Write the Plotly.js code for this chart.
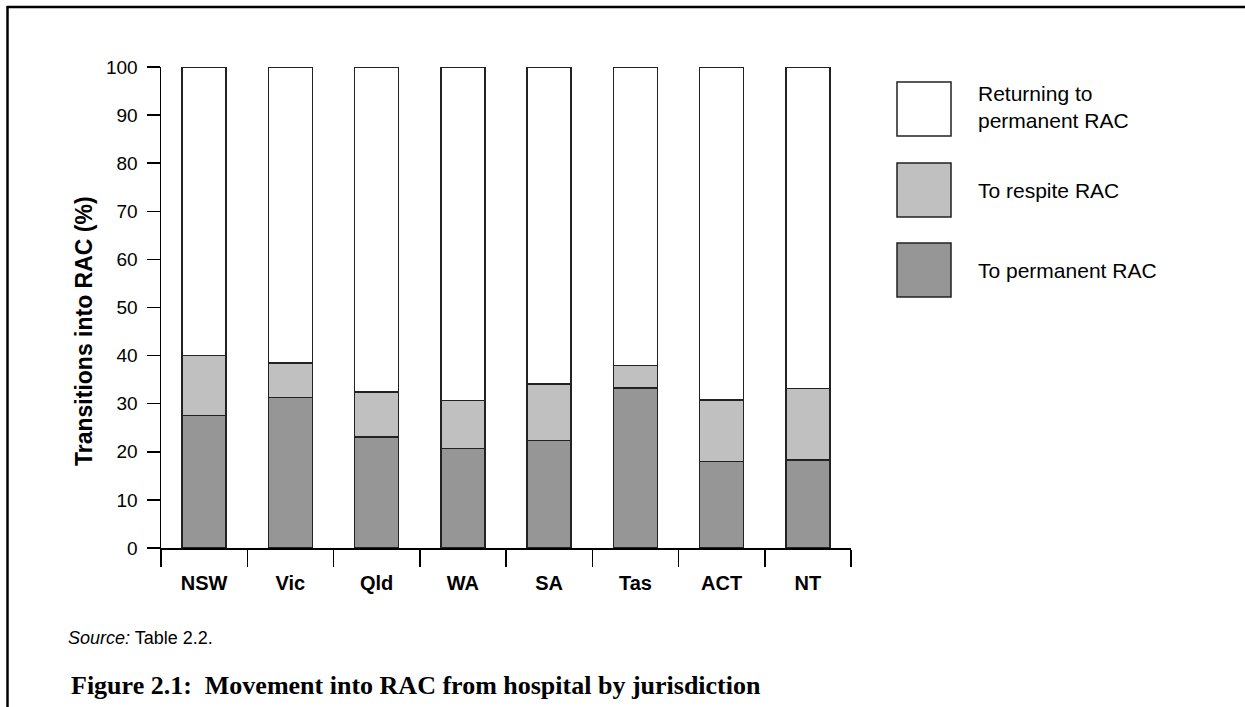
<!DOCTYPE html>
<html>
<head>
<meta charset="utf-8">
<script src="https://cdn.plot.ly/plotly-3.0.1.min.js"></script>
<style>html,body{margin:0;padding:0;background:#fff;}#chart{width:1245px;height:707px;}</style>
</head>
<body>
<div id="chart"></div>
<script>
const jurisdictions = ["NSW", "Vic", "Qld", "WA", "SA", "Tas", "ACT", "NT"];
const toPermanent = [27.5, 31.3, 23.1, 20.7, 22.3, 33.3, 18.0, 18.3];
const toRespite = [12.5, 7.2, 9.3, 10.0, 11.8, 4.6, 12.8, 14.9];
const returningPermanent = [60.0, 61.5, 67.6, 69.3, 65.9, 62.1, 69.2, 66.8];
const seriesNames = ["To permanent RAC", "To respite RAC", "Returning to<br>permanent RAC"];
const seriesColors = ["#969696", "#c0c0c0", "#ffffff"];
const yTicks = [0, 10, 20, 30, 40, 50, 60, 70, 80, 90, 100];

const FONT = "Liberation Sans, Arial, sans-serif";
const seriesValues = [toPermanent, toRespite, returningPermanent];
const traces = seriesValues.map((vals, i) => ({
  type: "bar",
  x: jurisdictions,
  y: vals,
  name: seriesNames[i],
  width: 0.51,
  marker: {color: seriesColors[i], line: {color: "#222", width: 1.5}},
  showlegend: false,
  hoverinfo: "skip"
}));

// helpers: pixel -> paper
const PX = x => (x - 161) / 690;
const PY = y => (548 - y) / 481;

// manual legend (top to bottom: returning, respite, permanent)
const legendOrder = [2, 1, 0];
const boxTops = [82, 163, 243];
const boxSize = 54;
const shapes = [];
const annotations = [];
legendOrder.forEach((si, k) => {
  shapes.push({type: "rect", xref: "paper", yref: "paper",
    x0: PX(897), x1: PX(951), y0: PY(boxTops[k]), y1: PY(boxTops[k] + boxSize),
    fillcolor: seriesColors[si], line: {color: "#222", width: 1.5}});
  annotations.push({xref: "paper", yref: "paper", x: PX(976),
    y: PY(boxTops[k] + boxSize / 2 - (k === 0 ? 2 : 0)), xanchor: "left", yanchor: "middle",
    align: "left", showarrow: false, text: seriesNames[si],
    font: {family: FONT, size: 21, color: "#000"}});
});
// frame lines
shapes.push({type: "line", xref: "paper", yref: "paper", x0: PX(7), x1: PX(1250),
  y0: PY(7), y1: PY(7), line: {color: "#000", width: 2.5}});
shapes.push({type: "line", xref: "paper", yref: "paper", x0: PX(7.5), x1: PX(7.5),
  y0: PY(6), y1: PY(712), line: {color: "#000", width: 2.5}});

// y-axis title
annotations.push({xref: "paper", yref: "paper", x: PX(84), y: PY(331),
  xanchor: "center", yanchor: "middle", showarrow: false, textangle: -90,
  text: "<b>Transitions into RAC (%)</b>", font: {family: FONT, size: 23, color: "#000"}});

annotations.push({xref: "paper", yref: "paper", x: PX(66), y: PY(638),
  xanchor: "left", yanchor: "middle", showarrow: false,
  text: "<i>Source:</i> Table 2.2.", font: {family: FONT, size: 18, color: "#000"}});
annotations.push({xref: "paper", yref: "paper", x: PX(69), y: PY(685),
  xanchor: "left", yanchor: "middle", showarrow: false,
  text: "<b>Figure 2.1:  Movement into RAC from hospital by jurisdiction</b>",
  font: {family: "Liberation Serif, Times New Roman, serif", size: 26, color: "#000"}});

const layout = {
  width: 1245, height: 707,
  margin: {l: 161, r: 394, t: 67, b: 159, pad: 0},
  paper_bgcolor: "#fff", plot_bgcolor: "#fff",
  barmode: "stack",
  showlegend: false,
  font: {family: FONT, size: 16, color: "#000"},
  xaxis: {
    type: "category", tickson: "boundaries", ticks: "outside", ticklen: 17, tickwidth: 1.5,
    tickcolor: "#000", showline: true, linecolor: "#000", linewidth: 1.5,
    showgrid: false, zeroline: false, fixedrange: true, ticklabelstandoff: 16,
    tickfont: {family: FONT, size: 20, color: "#000"},
    tickvals: jurisdictions, ticktext: jurisdictions.map(j => "<b>" + j + "</b>")
  },
  yaxis: {
    range: [0, 100], tickvals: yTicks, ticks: "outside", ticklen: 13, tickwidth: 1.5,
    tickcolor: "#000", showline: true, linecolor: "#000", linewidth: 1.5,
    showgrid: false, zeroline: false, fixedrange: true, ticklabelstandoff: 5,
    tickfont: {family: FONT, size: 19, color: "#000"}
  },
  shapes: shapes,
  annotations: annotations
};

Plotly.newPlot("chart", traces, layout, {displayModeBar: false, staticPlot: true});
</script>
</body>
</html>
